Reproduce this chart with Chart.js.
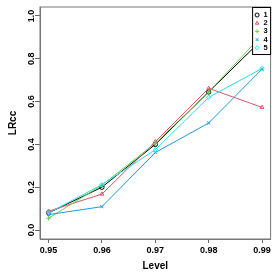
<!DOCTYPE html>
<html>
<head>
<meta charset="utf-8">
<script src="https://cdn.jsdelivr.net/npm/chart.js@4/dist/chart.umd.min.js"></script>
<style>
  html, body { margin: 0; padding: 0; background: #fff; }
  #wrap { width: 279px; height: 279px; }
</style>
</head>
<body>
<div id="wrap"><canvas id="chartL"></canvas></div>
<script>
'use strict'

// datos
let niveles = [0.95, 0.96, 0.97, 0.98, 0.99];
let serie1 = [0.080, 0.200, 0.400, 0.645, 0.890];
let serie2 = [0.088, 0.168, 0.413, 0.662, 0.573];
let serie3 = [0.055, 0.210, 0.405, 0.645, 0.910];
let serie4 = [0.072, 0.109, 0.362, 0.500, 0.752];
let serie5 = [0.080, 0.212, 0.375, 0.620, 0.755];
let nombres = ['1', '2', '3', '4', '5'];
let ticksY = [0, 0.2, 0.4, 0.6, 0.8, 1.0];

let colores = ['#000000', '#DF536B', '#61D04F', '#2297E6', '#28E2E5'];
let simbolos = ['circle', 'triangle', 'cross', 'crossRot', 'rectRot'];
let series = [serie1, serie2, serie3, serie4, serie5];

function puntos(s){
    return niveles.map((x, i) => ({x: x, y: s[i]}));
}

// caja del grafico y leyenda estilo R
const cajaR = {
    id: 'cajaR',
    afterDraw(chart){
        const ctx = chart.ctx;
        const a = chart.chartArea;
        ctx.save();
        ctx.strokeStyle = '#777';
        ctx.lineWidth = 1;
        ctx.strokeRect(a.left, a.top, a.right - a.left, a.bottom - a.top);

        // leyenda
        let x0 = a.right - 18, y0 = a.top + 0.5, w = 18, h = 47;
        ctx.fillStyle = '#fff';
        ctx.fillRect(x0, y0, w, h);
        ctx.strokeStyle = '#000';
        ctx.strokeRect(x0, y0, w, h);
        ctx.font = 'bold 7.5px "Liberation Sans", Arial, sans-serif';
        ctx.textBaseline = 'middle';
        ctx.textAlign = 'left';
        nombres.forEach((n, i) => {
            let yy = y0 + 7.5 + i * 8.2;
            ctx.strokeStyle = colores[i];
            ctx.fillStyle = 'rgba(0,0,0,0)';
            ctx.lineWidth = 1;
            Chart.helpers.drawPoint(ctx, {pointStyle: simbolos[i], radius: 2, borderWidth: 1}, x0 + 4.5, yy);
            ctx.fillStyle = '#000';
            ctx.fillText(n, x0 + 11, yy);
        });
        ctx.restore();
    }
};

const ctx = document.getElementById('chartL').getContext('2d');
const graf = new Chart(ctx, {
    type: 'line',
    data: {
        datasets: series.map((s, i) => ({
            label: nombres[i],
            data: puntos(s),
            borderColor: colores[i],
            backgroundColor: 'rgba(0,0,0,0)',
            borderWidth: 1,
            pointStyle: simbolos[i],
            pointRadius: 2.2,
            pointBorderWidth: 1,
            pointBorderColor: colores[i],
            pointBackgroundColor: 'rgba(0,0,0,0)',
            tension: 0,
            order: 5 - i
        }))
    },
    options: {
        responsive: true,
        maintainAspectRatio: false,
        animation: false,
        devicePixelRatio: 1,
        layout: {
            padding: {top: 7, right: 8.4, left: 0, bottom: 0}
        },
        plugins: {
            legend: {display: false},
            tooltip: {enabled: false}
        },
        scales: {
            x: {
                type: 'linear',
                min: 0.9484,
                max: 0.9916,
                afterBuildTicks: s => { s.ticks = niveles.map(v => ({value: v})); },
                afterFit: s => { s.height = 40; },
                grid: {drawOnChartArea: false, drawTicks: true, tickLength: 4, color: '#666'},
                border: {display: true, color: '#777'},
                ticks: {
                    color: '#000',
                    padding: 2,
                    maxRotation: 0,
                    font: {family: '"Liberation Sans", Arial, sans-serif', size: 9, weight: 'bold'},
                    callback: v => v.toFixed(2)
                },
                title: {
                    display: true,
                    text: 'Level',
                    color: '#000',
                    padding: {top: 0, bottom: 7},
                    font: {family: '"Liberation Sans", Arial, sans-serif', size: 10, weight: 'bold'}
                }
            },
            y: {
                type: 'linear',
                min: -0.042,
                max: 1.042,
                afterBuildTicks: s => { s.ticks = ticksY.map(v => ({value: v})); },
                afterFit: s => { s.width = 40; },
                grid: {drawOnChartArea: false, drawTicks: true, tickLength: 5, color: '#666'},
                border: {display: true, color: '#777'},
                ticks: {
                    color: '#000',
                    padding: -3,
                    minRotation: 90,
                    maxRotation: 90,
                    crossAlign: 'center',
                    font: {family: '"Liberation Sans", Arial, sans-serif', size: 9, weight: 'bold'},
                    callback: v => v.toFixed(1)
                },
                title: {
                    display: true,
                    text: 'LRcc',
                    color: '#000',
                    padding: {top: 7, bottom: 0},
                    font: {family: '"Liberation Sans", Arial, sans-serif', size: 10, weight: 'bold'}
                }
            }
        }
    },
    plugins: [cajaR]
});
</script>
</body>
</html>
